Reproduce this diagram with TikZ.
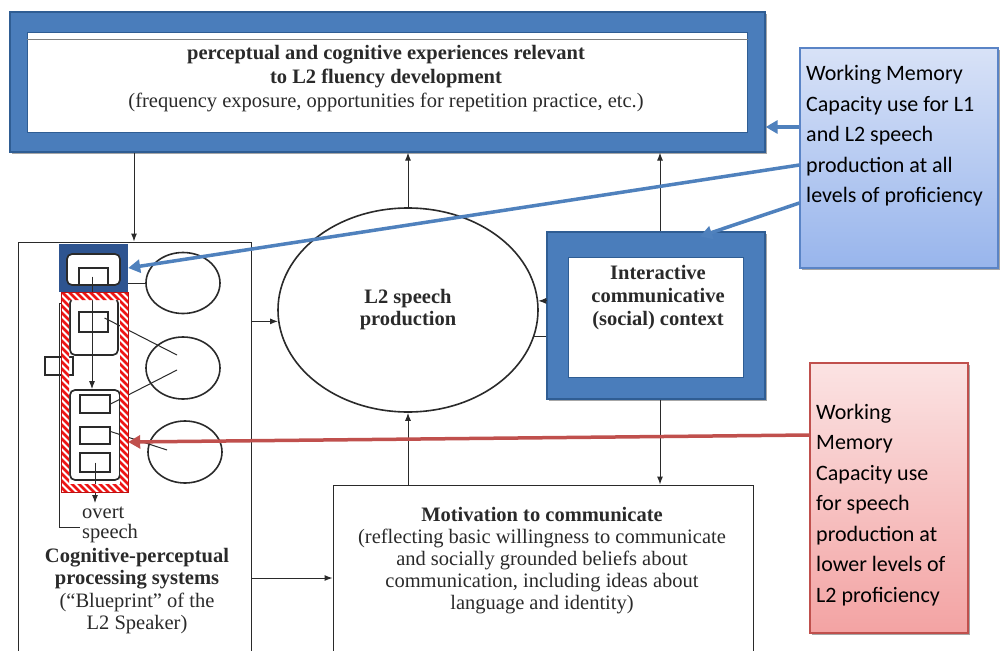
\documentclass[tikz,border=0pt]{standalone}
\usepackage{fontspec}
\setmainfont{Liberation Serif}
\newfontfamily\callfont{Carlito}
\usetikzlibrary{arrows.meta,fit,shapes.geometric,shadows}

\definecolor{ink}{HTML}{2A2A2A}
\definecolor{frameblue}{HTML}{4A7DBB}
\definecolor{frameedge}{HTML}{2F5D93}
\definecolor{navy}{HTML}{2E5490}
\definecolor{callblue}{HTML}{4F81BD}
\definecolor{callTop}{HTML}{D8E2F7}
\definecolor{callBot}{HTML}{98B5EC}
\definecolor{calledge}{HTML}{5A84C6}
\definecolor{redline}{HTML}{C0504D}
\definecolor{redTop}{HTML}{FBE3E3}
\definecolor{redBot}{HTML}{F3A3A3}
\definecolor{hatchred}{HTML}{EE1515}

\begin{document}
\begin{tikzpicture}[x=1pt,y=-1pt,
  line/.style={draw=ink, line width=1pt},
  arr/.style={line, -{Latex[length=8pt,width=6pt]}},
  oval/.style={ellipse, draw=ink, line width=1.6pt, inner sep=0},
  sq/.style={draw=ink, line width=1.2pt, inner sep=0},
  rbox/.style={draw=ink, line width=1.7pt, fill=white, rounded corners=5pt, inner sep=0},
  shadowed/.style={drop shadow={shadow xshift=1.5pt, shadow yshift=-2pt, opacity=0.35, fill=black}},
  frame/.style={fill=frameblue, draw=frameedge, line width=1.2pt, inner sep=0, shadowed},
  innerwin/.style={fill=white, draw=frameedge, line width=1pt, inner sep=0},
  plainbox/.style={draw=ink, line width=1pt, fill=white, inner sep=0},
  boxtext/.style={align=center, font=\fontsize{20.5}{23.5}\selectfont, inner sep=0, text=ink},
  callarr/.style={draw=callblue, line width=3.5pt, -{Triangle[length=12pt,width=13pt]}},
  redarr/.style={draw=redline, line width=3.5pt, -{Triangle[length=12pt,width=13pt]}},
  calltext/.style={align=left, anchor=west, inner sep=0, text=black,
    font=\callfont\fontsize{22}{30.5}\selectfont}]

\useasboundingbox (0,0) rectangle (1000,650);
\fill[white] (0,0) rectangle (1000,650);

% ---------- top box: experiences ----------
\node[frame, fit={(10,12)(765,152)}] (topframe) {};
\node[innerwin, fit={(27,33)(747,132)}] (topin) {};
\draw[gray, line width=1pt] ([yshift=-7pt]topin.north west) -- ([yshift=-7pt]topin.north east);
\node[boxtext, font=\fontsize{20.5}{24}\selectfont] (toptext) at (386,79)
  {\textbf{perceptual and cognitive experiences relevant}\\
   \textbf{to L2 fluency development}\\
   (frequency exposure, opportunities for repetition practice, etc.)};

% ---------- left panel: processing systems ----------
\node[plainbox, fit={(18,242)(251,665)}] (panel) {};

\node[oval, minimum width=74pt, minimum height=61pt] (e1) at (183,283) {};
\node[oval, minimum width=74pt, minimum height=62pt] (e2) at (183,368) {};
\node[oval, minimum width=74pt, minimum height=62pt] (e3) at (185,452) {};

\node[sq, fill=white, fit={(45,357)(73,375)}] (sl) {};
\draw[line] (70,303) -- (59,303) -- (59,527) -- (80,527) coordinate (brk);

\node[fill=navy, inner sep=0, fit={(59,244)(128,292)}] (nav) {};
\node[rbox, fit={(67,254)(120,285)}] (rb1) {};
\node[sq, fit={(79,268)(108,285)}] (s1) {};

\node[rbox, fit={(70,298)(118,355)}] (rb2) {};
\node[sq, fit={(79,312)(108,332)}] (s2) {};

\node[rbox, fit={(70,390)(120,480)}] (rb3) {};
\node[sq, fit={(80,395)(110,413)}] (s3a) {};
\node[sq, fit={(80,427)(110,444)}] (s3b) {};
\node[sq, fit={(80,453)(110,472)}] (s3c) {};

\draw[arr] ([xshift=-1.5pt]s1.center) -- ([xshift=-1.5pt]s1.center |- rb3.north);
\coordinate (overt) at (95,503);
\draw[arr] (s3c.center) -- (overt);

\draw[line] (e1.west -| nav.east) -- (e1.west);
\draw[line] ([xshift=-4pt,yshift=4pt]s2.east) -- ([xshift=-6pt,yshift=13pt]e2.center);
\draw[line] (s3a.east) -- ([xshift=-6pt,yshift=-2pt]e2.center);
\draw[line] ([yshift=4pt]s3b.east) -- ([xshift=-18pt,yshift=2pt]e3.center);

% striped band round the lower processing boxes
\node[inner sep=0, fit={(61,292)(128,492)}] (hatch) {};
\begin{scope}
  \clip (61,292) rectangle (128,300)
        (61,484) rectangle (128,492)
        (61,300) rectangle (69,484)
        (120,300) rectangle (128,484);
  \fill[white] (61,292) rectangle (128,492);
  \foreach \c in {160,167,...,440}
    \draw[hatchred, line width=2.8pt] (40,40+\c) -- (150,150+\c);
\end{scope}
\draw[hatchred!80!black, line width=0.6pt] (hatch.north west) rectangle (hatch.south east);

\node[anchor=west, align=left, inner sep=0, text=ink, font=\fontsize{20.5}{20}\selectfont]
  (overttext) at (82,525) {overt\\speech};
\node[boxtext, font=\fontsize{20.5}{22.5}\selectfont] (paneltext) at (137,591)
  {\textbf{Cognitive-perceptual}\\
   \textbf{processing systems}\\
   (“Blueprint” of the\\
   L2 Speaker)};

% ---------- central ellipse ----------
\node[oval, minimum width=260pt, minimum height=204pt, align=center,
      font=\fontsize{20.5}{22}\selectfont, text=ink] (speech) at (408,310)
  {\textbf{L2 speech}\\\textbf{production}};

\coordinate (dropx) at (134,0);
\draw[arr] (dropx |- topframe.south) -- (dropx |- panel.north);
\draw[arr] (speech.north) -- (speech.north |- topframe.south);
\draw[arr] (speech.185 -| panel.east) -- (speech.185);

% ---------- motivation box ----------
\node[plainbox, fit={(333,485)(753,665)}] (motiv) {};
\node[boxtext, font=\fontsize{20.5}{22}\selectfont] (motivtext) at (542,561)
  {\textbf{Motivation to communicate}\\
   (reflecting basic willingness to communicate\\
   and socially grounded beliefs about\\
   communication, including ideas about\\
   language and identity)};

\draw[arr] (speech.south |- motiv.north) -- (speech.south);
\coordinate (pm) at (0,578);
\draw[arr] (pm -| panel.east) -- (pm -| motiv.west);

% ---------- interactive context ----------
\coordinate (ctxx) at (660,0);
\draw[arr] (ctxx |- 0,232) -- (ctxx |- topframe.south);
\draw[line] (speech.-12) -- (speech.-12 -| 548,0);
\node[frame, fit={(547,232)(765,399)}] (ctxframe) {};
\node[innerwin, fit={(568,257)(743,377)}] (ctxin) {};
\node[boxtext, font=\fontsize{20.5}{23}\selectfont] (ctxtext) at (658,298)
  {\textbf{Interactive}\\\textbf{communicative}\\\textbf{(social) context}};
\draw[arr] (speech.4 -| ctxframe.west) -- (speech.4);
\draw[arr] (ctxx |- ctxframe.south) -- (ctxx |- motiv.north);

% ---------- working memory callouts ----------
\node[fit={(800,48)(998,268)}, inner sep=0, draw=calledge, line width=1.2pt,
      top color=callTop, bottom color=callBot, shadowed] (wmall) {};
\node[calltext] (wmalltext) at (806,136)
  {Working Memory\\Capacity use for L1\\and L2 speech\\production at all\\levels of proficiency};

\node[fit={(810,363)(968,633)}, inner sep=0, draw=redline, line width=1.2pt,
      top color=redTop, bottom color=redBot, shadowed] (wmlow) {};
\node[calltext] (wmlowtext) at (816,505)
  {Working\\Memory\\Capacity use\\for speech\\production at\\lower levels of\\L2 proficiency};

\draw[callarr] ([yshift=31pt]wmall.west) -- ([yshift=31pt]wmall.west -| topframe.east);
\draw[callarr] ([yshift=-7pt]wmall.west) -- (nav.east);
\draw[callarr] ([yshift=-45pt]wmall.west) -- ([xshift=44pt,yshift=-5pt]ctxframe.north);
\draw[redarr] ([yshift=63pt]wmlow.west) -- ([yshift=-50pt]hatch.east);

\end{tikzpicture}
\end{document}
